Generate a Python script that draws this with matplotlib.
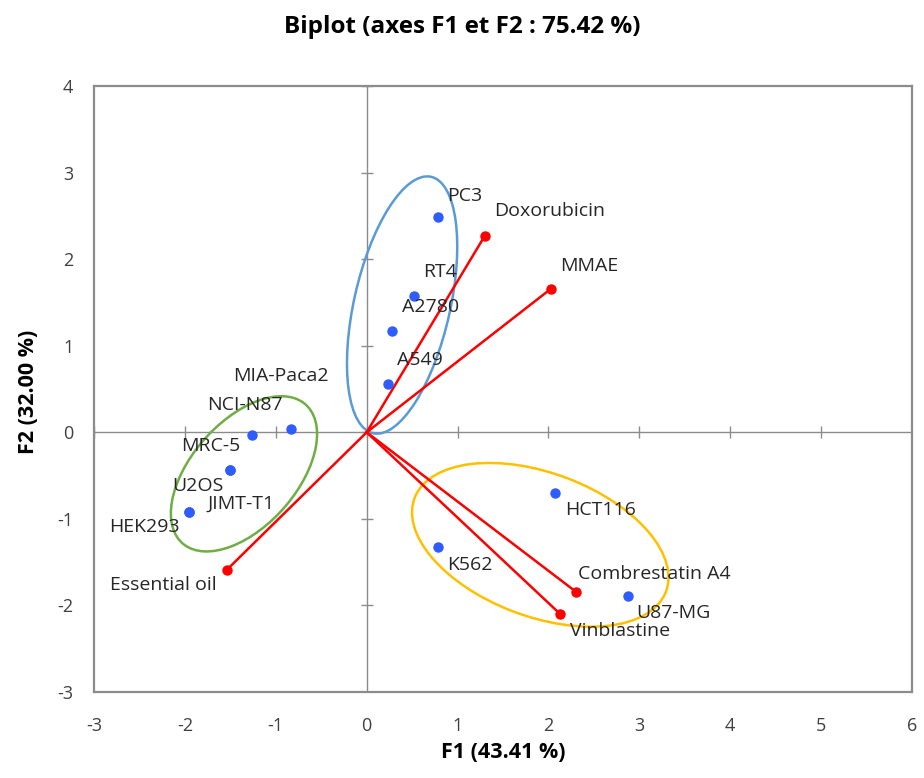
import matplotlib
matplotlib.use("Agg")
import matplotlib.pyplot as plt
from matplotlib.patches import Ellipse

plt.rcParams['font.family'] = ['Open Sans', 'DejaVu Sans']
plt.rcParams['axes.unicode_minus'] = False

# observations (blue points)
obs_names = ['PC3', 'RT4', 'A2780', 'A549', 'MIA-Paca2', 'NCI-N87', 'MRC-5', 'U2OS',
             'JIMT-T1', 'HEK293', 'HCT116', 'K562', 'U87-MG']
obs_x = [0.78, 0.52, 0.28, 0.23, -0.83, -1.26, -1.50, -1.50, -1.96, -1.96, 2.07, 0.78, 2.87]
obs_y = [2.49, 1.57, 1.17, 0.56, 0.04, -0.03, -0.44, -0.44, -0.92, -0.92, -0.70, -1.33, -1.89]

# variables (red vectors)
var_names = ['Doxorubicin', 'MMAE', 'Essential oil', 'Combrestatin A4', 'Vinblastine']
var_x = [1.30, 2.03, -1.54, 2.30, 2.13]
var_y = [2.27, 1.66, -1.59, -1.84, -2.10]

xticks = [-3, -2, -1, 0, 1, 2, 3, 4, 5, 6]
yticks = [-3, -2, -1, 0, 1, 2, 3, 4]

# label offsets in pixels (dx, dy)
obs_off = {
    'PC3': (10, 21), 'RT4': (9, 24), 'A2780': (10, 24),
    'A549': (9, 24), 'MIA-Paca2': (-58, 53), 'NCI-N87': (-45, 30),
    'MRC-5': (-49, 24), 'U2OS': (-58, -16), 'JIMT-T1': (19, 8),
    'HEK293': (-79, -15), 'HCT116': (10, -17), 'K562': (10, -18),
    'U87-MG': (9, -17),
}
var_off = {
    'Doxorubicin': (9, 25), 'MMAE': (9, 23), 'Essential oil': (-117, -15),
    'Combrestatin A4': (2, 18), 'Vinblastine': (10, -17),
}

fig = plt.figure(figsize=(9.24, 7.78), dpi=100)
ax = fig.add_axes([94 / 924, 1 - 692 / 778, (912 - 94) / 924, (692 - 86) / 778])
ax.set_xlim(-3, 6)
ax.set_ylim(-3, 4)

grey = '#8c8c8c'
for s in ax.spines.values():
    s.set_color(grey)
    s.set_linewidth(1.6)

ax.axhline(0, color=grey, lw=1.0, zorder=1)
ax.axvline(0, color=grey, lw=1.0, zorder=1)
ax.plot(xticks, [0] * len(xticks), ls='none', marker='|', ms=9, mew=1.0, color=grey, zorder=1)
ax.plot([0] * len(yticks), yticks, ls='none', marker='_', ms=9, mew=1.0, color=grey, zorder=1)

ax.set_xticks(xticks)
ax.set_yticks(yticks)
ax.tick_params(length=0, labelsize=13, labelcolor='#404040')
ax.tick_params(axis='x', pad=18)
ax.tick_params(axis='y', pad=15)

# ellipses
ax.add_patch(Ellipse((0.39, 1.47), 3.03, 1.06, angle=78, fill=False, ec='#5b9bd5', lw=1.8, zorder=2))
ax.add_patch(Ellipse((-1.35, -0.48), 2.1, 1.18, angle=51, fill=False, ec='#70ad47', lw=1.8, zorder=2))
ax.add_patch(Ellipse((1.91, -1.30), 2.97, 1.65, angle=-22, fill=False, ec='#ffc000', lw=1.8, zorder=2))

# vectors
for x, y in zip(var_x, var_y):
    ax.plot([0, x], [0, y], color='#ff0000', lw=1.8, zorder=3)
ax.plot(var_x, var_y, ls='none', marker='o', ms=6.5, color='#ff0000', zorder=4)

ax.plot(obs_x, obs_y, ls='none', marker='o', ms=6.5, color='#2e5cff', zorder=4)

lab = dict(fontsize=14, color='#262626', textcoords='offset pixels', va='center', ha='left', zorder=5)
for n, x, y in zip(obs_names, obs_x, obs_y):
    ax.annotate(n, (x, y), xytext=obs_off[n], **lab)
for n, x, y in zip(var_names, var_x, var_y):
    ax.annotate(n, (x, y), xytext=var_off[n], **lab)

fig.text(0.5, 1 - 27 / 778, 'Biplot (axes F1 et F2 : 75.42 %)', ha='center', va='center',
         fontsize=17.5, fontweight='bold', color='#000000')
fig.text(503 / 924, 1 - 752 / 778, 'F1 (43.41 %)', ha='center', va='center',
         fontsize=15.5, fontweight='bold')
fig.text(28 / 924, 1 - 392 / 778, 'F2 (32.00 %)', ha='center', va='center', rotation=90,
         fontsize=15.5, fontweight='bold')

fig.savefig('out.png', dpi=100, facecolor='white')
